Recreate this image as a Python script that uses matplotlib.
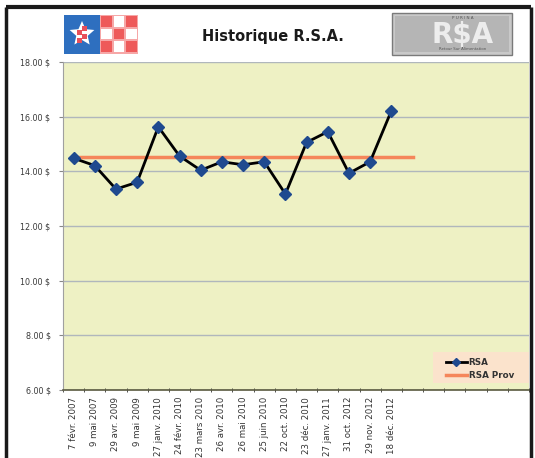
import matplotlib
matplotlib.use("Agg")
import matplotlib.pyplot as plt
import matplotlib.patches as mpatches
from matplotlib.lines import Line2D
import numpy as np

# ---------------- data ----------------
dates = ["7 févr. 2007", "9 mai 2007", "29 avr. 2009", "9 mai 2009",
         "27 janv. 2010", "24 févr. 2010", "23 mars 2010", "26 avr. 2010",
         "26 mai 2010", "25 juin 2010", "22 oct. 2010", "23 déc. 2010",
         "27 janv. 2011", "31 oct. 2012", "29 nov. 2012", "18 déc. 2012"]
n_slots = 22
rsa = [14.48, 14.21, 13.35, 13.60, 15.63, 14.56, 14.04, 14.35,
       14.24, 14.35, 13.17, 15.06, 15.45, 13.93, 14.35, 16.21]
rsa_prov = [14.53] * 17
yticks = [6, 8, 10, 12, 14, 16, 18]
ytick_labels = ["6.00 $", "8.00 $", "10.00 $", "12.00 $", "14.00 $", "16.00 $", "18.00 $"]

W, H = 535, 458
fig = plt.figure(figsize=(W / 100, H / 100), dpi=100)
fig.patch.set_facecolor("white")

def fx(px):
    return px / W

def fy(py):
    return 1 - py / H

# outer frame
fig.add_artist(Line2D([fx(6), fx(531)], [fy(6.5), fy(6.5)], color="#1a1a1a", lw=3,
                      solid_capstyle="butt"))
fig.add_artist(Line2D([fx(6), fx(6)], [fy(6.5), fy(458)], color="#1a1a1a", lw=2.5,
                      solid_capstyle="butt"))
fig.add_artist(Line2D([fx(531), fx(531)], [fy(6.5), fy(458)], color="#1a1a1a", lw=2.5,
                      solid_capstyle="butt"))

# ---------------- axes ----------------
left, right, top, bottom = 63, 529, 62, 390
ax = fig.add_axes([fx(left), fy(bottom), fx(right - left), (bottom - top) / H])
ax.set_facecolor("#EEF1C4")

x = np.arange(len(rsa))
xp = np.arange(len(rsa_prov))
ax.plot(xp, rsa_prov, color="#F5865A", lw=2.5, zorder=2, label="RSA Prov")
ax.plot(x, rsa, color="black", lw=2, marker="D", markersize=6.5,
        markerfacecolor="#1F4A8F", markeredgecolor="#1F4A8F", zorder=3, label="RSA")

ax.set_xlim(-0.5, n_slots - 0.5)
ax.set_ylim(6, 18)
ax.set_yticks(yticks)
ax.set_yticklabels(ytick_labels, fontsize=5.8, color="#3a3a3a")
ax.yaxis.grid(True, color="#B0B7BC", lw=1)
ax.set_axisbelow(True)

labels = dates + [""] * (n_slots - len(dates))
ax.set_xticks(np.arange(n_slots))
ax.set_xticklabels(labels, rotation=90, fontsize=6.2, color="#333333")
ax.tick_params(axis="x", which="major", length=0, pad=5)
ax.set_xticks(np.arange(n_slots + 1) - 0.5, minor=True)
ax.tick_params(axis="x", which="minor", length=3, direction="inout", color="#333333")
ax.tick_params(axis="y", length=3, direction="out", color="#888888", pad=6)

for s in ["top", "right"]:
    ax.spines[s].set_visible(False)
ax.spines["left"].set_color("#A0A0A0")
ax.spines["bottom"].set_color("#5A5A40")
ax.spines["bottom"].set_linewidth(1.2)

# legend background box
ax.add_patch(mpatches.Rectangle((0.794, 0.021), 0.206, 0.095, transform=ax.transAxes,
                                facecolor="#FBE3CC", edgecolor="none", zorder=4))
handles = [Line2D([], [], color="black", lw=2, marker="D", markersize=4,
                  markerfacecolor="#1F4A8F", markeredgecolor="#1F4A8F"),
           Line2D([], [], color="#F5865A", lw=2.5)]
leg = ax.legend(handles, ["RSA", "RSA Prov"], loc="lower right",
                bbox_to_anchor=(0.968, 0.03), frameon=False,
                handlelength=2.4, handletextpad=0.25,
                borderpad=0.0, labelspacing=0.5, borderaxespad=0.0,
                prop={"weight": "bold", "size": 6.3})
leg.set_zorder(5)
for t in leg.get_texts():
    t.set_color("#333333")

# title
fig.text(fx(273), fy(37), "Historique R.S.A.", ha="center", va="center",
         fontsize=10.5, fontweight="bold", color="#1a1a1a")

# ---------------- left logo (approximation) ----------------
fig.add_artist(mpatches.Rectangle((fx(64), fy(54)), fx(36), 39 / H,
                                  facecolor="#2E6FBF", edgecolor="none"))
cx, cy = 82, 34
pts = []
for i in range(10):
    ang = np.pi / 2 + i * np.pi / 5
    r = 13 if i % 2 == 0 else 6
    pts.append((fx(cx + r * np.cos(ang)), fy(cy - r * np.sin(ang))))
fig.add_artist(mpatches.Polygon(pts, closed=True, facecolor="white", edgecolor="none"))
for (px, py) in [(79, 32), (84, 36), (79, 40), (84, 28)]:
    fig.add_artist(mpatches.Rectangle((fx(px - 2.5), fy(py + 2.5)), fx(5), 5 / H,
                                      facecolor="#E8505A", edgecolor="none"))
fig.add_artist(mpatches.Rectangle((fx(100), fy(54)), fx(38), 39 / H,
                                  facecolor="#F6A7A7", edgecolor="none"))
cs = 38 / 3
for i in range(3):
    for j in range(3):
        col = "#EE5A5A" if (i + j) % 2 == 0 else "#FFFFFF"
        fig.add_artist(mpatches.Rectangle((fx(101 + i * cs), fy(15 + (j + 1) * cs - 1)),
                                          fx(cs - 2), (cs - 2) / H,
                                          facecolor=col, edgecolor="none"))

# ---------------- right logo (approximation) ----------------
fig.add_artist(mpatches.Rectangle((fx(392), fy(55)), fx(120), 42 / H,
                                  facecolor="#C9C9C9", edgecolor="#7A7A7A", lw=1))
fig.add_artist(mpatches.Rectangle((fx(395), fy(52)), fx(114), 36 / H,
                                  facecolor="#B5B5B5", edgecolor="none"))
fig.text(fx(463), fy(35), "R$A", ha="center", va="center", fontsize=20,
         fontweight="bold", color="#EDEDED")
fig.text(fx(463), fy(18), "P U R I N A", ha="center", va="center", fontsize=3,
         color="#555555")
fig.text(fx(463), fy(49.5), "Retour Sur Alimentation", ha="center", va="center",
         fontsize=2.8, color="#555555")

fig.savefig("out.png", dpi=100, facecolor="white")
